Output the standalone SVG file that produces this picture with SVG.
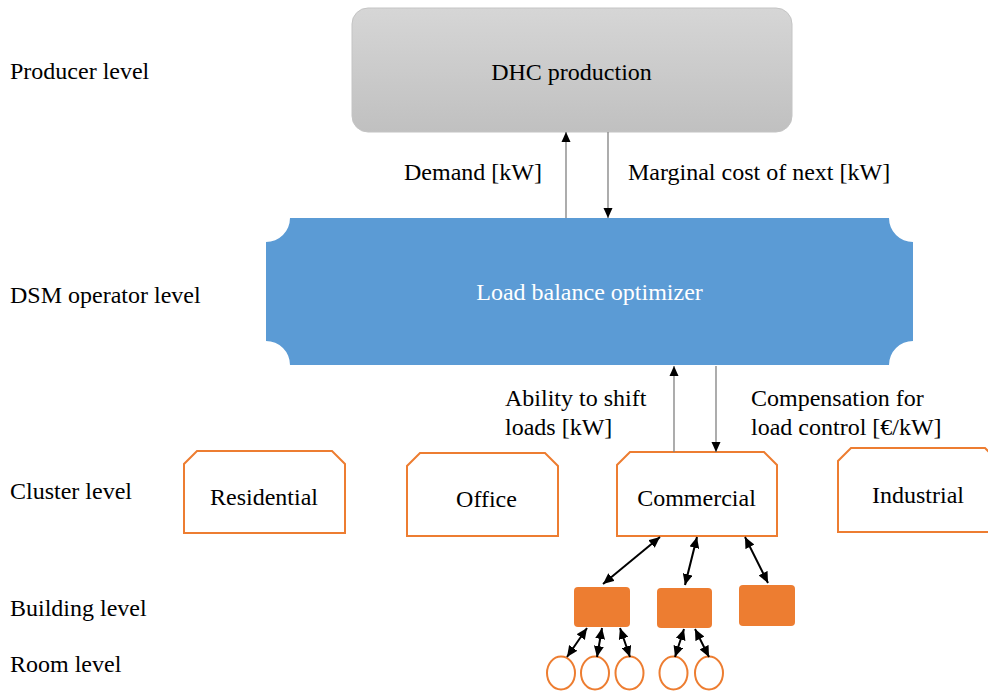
<svg xmlns="http://www.w3.org/2000/svg" width="988" height="693" viewBox="0 0 988 693">
<defs>
<linearGradient id="gray" x1="0" y1="0" x2="0" y2="1">
<stop offset="0" stop-color="#d6d6d6"/>
<stop offset="1" stop-color="#c0c0c0"/>
</linearGradient>
<marker id="thinHead" markerUnits="userSpaceOnUse" markerWidth="10" markerHeight="10" viewBox="0 0 10 10" refX="10" refY="5" orient="auto">
<path d="M0,0.5 L10,5 L0,9.5 Z" fill="#000"/>
</marker>
<marker id="boldEnd" markerUnits="userSpaceOnUse" markerWidth="11" markerHeight="10" viewBox="0 0 11 10" refX="11" refY="5" orient="auto">
<path d="M0,0 L11,5 L0,10 Z" fill="#000"/>
</marker>
<marker id="boldStart" markerUnits="userSpaceOnUse" markerWidth="11" markerHeight="10" viewBox="0 0 11 10" refX="0" refY="5" orient="auto">
<path d="M11,0 L0,5 L11,10 Z" fill="#000"/>
</marker>
</defs>
<style>
.t { font-size: 24px; fill: #000; }
.mid { text-anchor: middle; }
.white { fill: #fff; }
.cluster { fill: #fff; stroke: #ED7D31; stroke-width: 2; }
.bldg { fill: #ED7D31; }
.room { fill: #fff; stroke: #ED7D31; stroke-width: 2; }
.thin { stroke: #808080; stroke-width: 1.3; fill: none; marker-end: url(#thinHead); }
.bold { stroke: #000; stroke-width: 2; fill: none; marker-start: url(#boldStart); marker-end: url(#boldEnd); }
</style>

<g id="level-labels" font-family="Liberation Serif">
<text class="t" x="10" y="79">Producer level</text>
<text class="t" x="10" y="303">DSM operator level</text>
<text class="t" x="10" y="499">Cluster level</text>
<text class="t" x="10" y="616">Building level</text>
<text class="t" x="10" y="672">Room level</text>
</g>

<g id="dhc-production" font-family="Liberation Serif">
<rect x="352" y="8" width="440" height="124" rx="16" ry="16" fill="url(#gray)" stroke="#c4c4c4" stroke-width="1"/>
<text class="t mid" x="571.5" y="80">DHC production</text>
</g>

<g id="load-balance-optimizer" font-family="Liberation Serif">
<path d="M290 218 H889 A24 24 0 0 0 913 242 V341 A24 24 0 0 0 889 365 H290 A24 24 0 0 0 266 341 V242 A24 24 0 0 0 290 218 Z" fill="#5B9BD5"/>
<text class="t mid white" x="589.5" y="300" font-size="23">Load balance optimizer</text>
</g>

<g id="residential" font-family="Liberation Serif">
<path class="cluster" d="M197 451 H332 L345 464 V533 H184 V464 Z"/>
<text class="t mid" x="264" y="505">Residential</text>
</g>
<g id="office" font-family="Liberation Serif">
<path class="cluster" d="M420 453 H545 L558 466 V536 H407 V466 Z"/>
<text class="t mid" x="486.5" y="507">Office</text>
</g>
<g id="commercial" font-family="Liberation Serif">
<path class="cluster" d="M630 452 H764 L777 465 V536 H617 V465 Z"/>
<text class="t mid" x="696.5" y="506">Commercial</text>
</g>
<g id="industrial" font-family="Liberation Serif">
<path class="cluster" d="M851 448 H985 L998 461 V532 H838 V461 Z"/>
<text class="t mid" x="918" y="503">Industrial</text>
</g>

<g id="building-1"><rect class="bldg" x="574" y="587" width="56" height="40" rx="4"/></g>
<g id="building-2"><rect class="bldg" x="657" y="588" width="55" height="40" rx="4"/></g>
<g id="building-3"><rect class="bldg" x="739" y="585" width="56" height="41" rx="4"/></g>

<g id="room-1"><ellipse class="room" cx="561" cy="673" rx="14" ry="16.5"/></g>
<g id="room-2"><ellipse class="room" cx="595" cy="673" rx="14" ry="16.5"/></g>
<g id="room-3"><ellipse class="room" cx="629.5" cy="673" rx="14" ry="16.5"/></g>
<g id="room-4"><ellipse class="room" cx="673.5" cy="673" rx="14" ry="16.5"/></g>
<g id="room-5"><ellipse class="room" cx="709" cy="673" rx="14" ry="16.5"/></g>

<g id="connectors">
<line class="thin" x1="566" y1="218" x2="566" y2="132"/>
<line class="thin" x1="608" y1="132" x2="608" y2="218"/>
<line class="thin" x1="674" y1="452" x2="674" y2="366"/>
<line class="thin" x1="716" y1="366" x2="716" y2="452"/>
<line class="bold" x1="660" y1="537" x2="603" y2="584"/>
<line class="bold" x1="697" y1="537" x2="685" y2="585"/>
<line class="bold" x1="745" y1="537" x2="768" y2="583"/>
<line class="bold" x1="587" y1="628" x2="567" y2="657"/>
<line class="bold" x1="602" y1="628" x2="597" y2="657"/>
<line class="bold" x1="620" y1="628" x2="630" y2="657"/>
<line class="bold" x1="684" y1="629" x2="675" y2="657"/>
<line class="bold" x1="695" y1="629" x2="709" y2="657"/>
</g>

<g id="connector-labels" font-family="Liberation Serif">
<text class="t" x="404" y="180">Demand [kW]</text>
<text class="t" x="628" y="180">Marginal cost of next [kW]</text>
<text class="t" x="505" y="406">Ability to shift</text>
<text class="t" x="505" y="435">loads [kW]</text>
<text class="t" x="751" y="406">Compensation for</text>
<text class="t" x="751" y="435">load control [€/kW]</text>
</g>
</svg>
